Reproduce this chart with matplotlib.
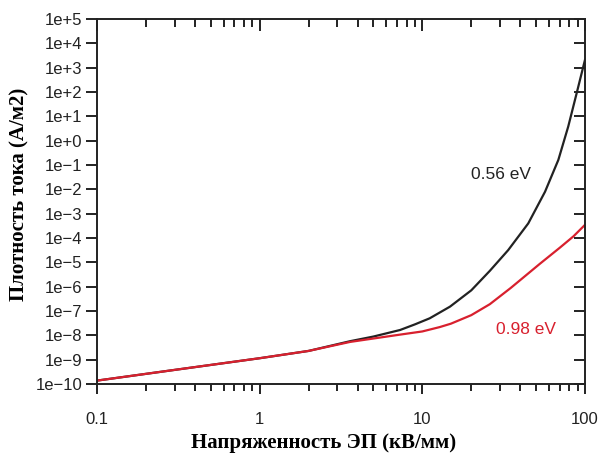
#!/usr/bin/env python3

import numpy as np
import matplotlib
matplotlib.use('Agg')
import matplotlib.pyplot as plt
from matplotlib.ticker import NullLocator, FixedLocator

# field strength, kV/mm, and log10 of current density
field_056 = [0.1, 0.3, 1, 2, 3.6, 5, 7.3, 9, 11.1, 14.8, 20, 26, 33.7,
             44.8, 56.8, 68.6, 78.9, 88.9, 100]
logj_056 = [-9.86, -9.42, -8.94, -8.64, -8.24, -8.05, -7.78, -7.55, -7.30,
            -6.82, -6.15, -5.35, -4.5, -3.4, -2.1, -0.79, 0.58, 1.95, 3.32]

field_098 = [0.1, 0.3, 1, 2, 3.6, 7.3, 10, 12.8, 15, 20, 26, 35, 52.8, 70,
             85, 100]
logj_098 = [-9.86, -9.42, -8.94, -8.64, -8.27, -7.97, -7.84, -7.66, -7.52,
            -7.17, -6.72, -6.05, -5.06, -4.4, -3.93, -3.46]

y_decades = list(range(-10, 6))
y_ticklabels = ['1e+{}'.format(d) if d >= 0 else '1e\u2212{}'.format(-d)
                for d in y_decades]
x_ticks = [0.1, 1, 10, 100]
x_ticklabels = ['0.1', '1', '10', '100']
x_minor = [m * 10.0 ** e for e in (-1, 0, 1) for m in range(2, 10)]

black = '#222222'
red = '#d8202e'

fig = plt.figure(figsize=(6.03, 4.61), dpi=100)
ax = fig.add_axes([0.1609, 0.167, 0.8092, 0.7918])

ax.plot(field_056, np.power(10.0, logj_056), color=black, lw=1.6)
ax.plot(field_098, np.power(10.0, logj_098), color=red, lw=1.6)

ax.set_xscale('log')
ax.set_yscale('log')
ax.set_xlim(0.1, 100)
ax.set_ylim(1e-10, 1e5)

y_pos = [10.0 ** d for d in y_decades]
ax.yaxis.set_major_locator(FixedLocator(y_pos))
ax.yaxis.set_minor_locator(NullLocator())
ax.set_yticklabels(y_ticklabels)
ax.set_xticks(x_ticks)
ax.set_xticklabels(x_ticklabels)
ax.xaxis.set_minor_locator(NullLocator())

# tick marks drawn as plain lines (label pads set to match)
ax.tick_params(axis='y', length=0, labelsize=12, pad=10.5, labelcolor=black)
ax.tick_params(axis='x', length=0, labelsize=12, pad=20, labelcolor=black)

bb = ax.get_position()
w_px = bb.width * fig.get_figwidth() * fig.dpi
h_px = bb.height * fig.get_figheight() * fig.dpi

xt = ax.get_xaxis_transform()
yt = ax.get_yaxis_transform()
tk = dict(color=black, lw=1.4, clip_on=False, solid_capstyle='butt')

for x in x_ticks:
    ax.plot([x, x], [0, -10 / h_px], transform=xt, **tk)
    ax.plot([x, x], [1, 1 - 12 / h_px], transform=xt, **tk)
for x in x_minor:
    ax.plot([x, x], [0, -7 / h_px], transform=xt, **tk)
    ax.plot([x, x], [1, 1 - 8 / h_px], transform=xt, **tk)
for y in y_pos:
    ax.plot([0, -11 / w_px], [y, y], transform=yt, **tk)
    ax.plot([1, 1 - 11 / w_px], [y, y], transform=yt, **tk)

for s in ax.spines.values():
    s.set_linewidth(1.4)
    s.set_color(black)

ax.text(30.5, 10 ** -1.37, '0.56 eV', color=black, fontsize=12.5,
        fontfamily='Liberation Sans', ha='center', va='center')
ax.text(43.4, 10 ** -7.78, '0.98 eV', color=red, fontsize=12.5,
        fontfamily='Liberation Sans', ha='center', va='center')

for lab in ax.get_xticklabels() + ax.get_yticklabels():
    lab.set_fontfamily('Liberation Sans')

fig.text(0.536, 0.04, 'Напряженность ЭП (кВ/мм)', ha='center', va='center',
         fontsize=15, fontweight='bold', fontfamily='Liberation Serif')
fig.text(0.033, 0.579, 'Плотность тока (А/м2)', ha='center', va='center',
         rotation=90, fontsize=15, fontweight='bold',
         fontfamily='Liberation Serif')

fig.savefig('out.png', dpi=100)
